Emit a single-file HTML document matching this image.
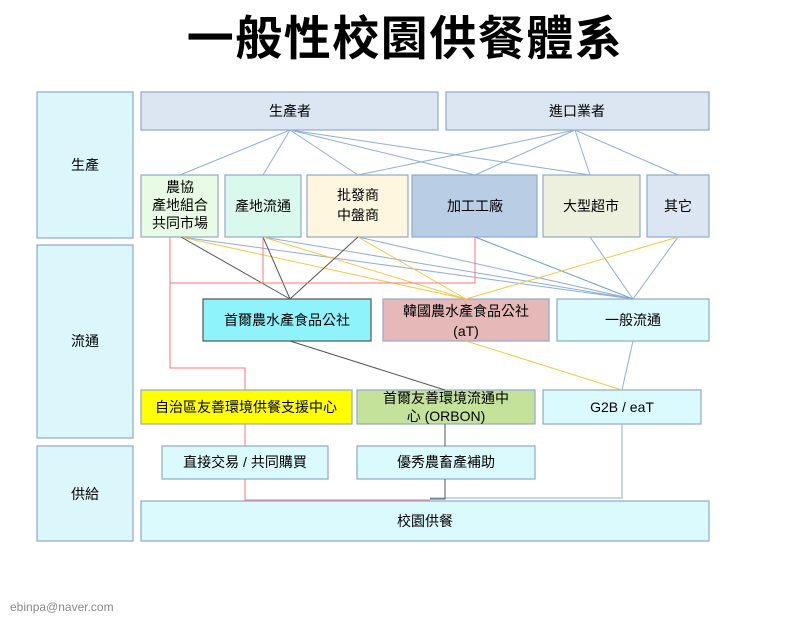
<!DOCTYPE html>
<html><head><meta charset="utf-8"><style>
body{margin:0;background:#fff;width:802px;height:624px;overflow:hidden}
svg{display:block}
text{font-family:"Liberation Sans","Noto Sans CJK TC",sans-serif;fill:#000}
</style></head><body>
<svg width="802" height="624" viewBox="0 0 802 624">
<text x="405" y="55" font-size="47" font-weight="bold" text-anchor="middle" letter-spacing="1.5">一般性校園供餐體系</text>
<g stroke="#8eaacb" stroke-width="1.2">
<rect x="37" y="92" width="96" height="146" fill="#dcf7fb"/>
<rect x="37" y="245" width="96" height="193" fill="#dcf7fb"/>
<rect x="37" y="446" width="96" height="95" fill="#dcf7fb"/>
<rect x="141" y="92" width="297" height="38" fill="#dce6f2"/>
<rect x="446" y="92" width="263" height="38" fill="#dce6f2"/>
<rect x="141" y="175" width="77" height="62" fill="#e8fbe4"/>
<rect x="225" y="175" width="76" height="62" fill="#d9f9ec"/>
<rect x="307" y="175" width="101" height="62" fill="#fff6e0"/>
<rect x="412" y="175" width="125" height="62" fill="#b9cde5"/>
<rect x="543" y="175" width="97" height="62" fill="#ecf0dc"/>
<rect x="647" y="175" width="62" height="62" fill="#dce6f2"/>
<rect x="203" y="299" width="168" height="42" fill="#8ef3fb" stroke="#555"/>
<rect x="383" y="299" width="166" height="42" fill="#e6b9b8"/>
<rect x="557" y="299" width="152" height="42" fill="#dbfafd"/>
<rect x="141" y="390" width="211" height="34" fill="#ffff00"/>
<rect x="357" y="390" width="178" height="34" fill="#c4e29a"/>
<rect x="543" y="390" width="158" height="34" fill="#dbfafd"/>
<rect x="162" y="446" width="166" height="33" fill="#dbfafd"/>
<rect x="357" y="446" width="178" height="33" fill="#dbfafd"/>
<rect x="141" y="501" width="568" height="40" fill="#dbfafd"/>
</g>
<g fill="none" stroke-width="1">
<g stroke="#8eaedc">
<path d="M290 130L180 175M290 130L263 175M290 130L358 175M290 130L475 175M290 130L590 175"/>
<path d="M575 130L358 175M575 130L475 175M575 130L590 175M575 130L678 175"/>
<path d="M181 237L633 299M263 237L633 299M358 237L633 299M590 237L633 299M678 237L633 299"/>
<path d="M475 237L633 299" stroke="#6a9fd6"/>
<path d="M633 341L622 390M622 424V498H430"/>
</g>
<g stroke="#f5c842">
<path d="M181 237L466 299M263 237L466 299M358 237L466 299M678 237L466 299M466 341L622 390"/>
</g>
<g stroke="#555">
<path d="M181 237L290 299M263 237L290 299M358 237L290 299M290 341L445 390M445 424V446M445 479V499H430"/>
</g>
<g stroke="#f77">
<path d="M170 237V368H245V390M245 424V446M245 479V500H430"/>
<path d="M170 283H475V237M263 237V283"/>
</g>
</g>
<g font-size="14" text-anchor="middle">
<text x="85" y="170">生產</text>
<text x="85" y="346">流通</text>
<text x="85" y="499">供給</text>
<text x="290" y="116">生產者</text>
<text x="577" y="116">進口業者</text>
<text x="180" y="192">農協</text>
<text x="180" y="210">產地組合</text>
<text x="180" y="228">共同市場</text>
<text x="263" y="211">產地流通</text>
<text x="358" y="200">批發商</text>
<text x="358" y="220">中盤商</text>
<text x="475" y="211">加工工廠</text>
<text x="591" y="211">大型超市</text>
<text x="678" y="211">其它</text>
<text x="287" y="325">首爾農水產食品公社</text>
<text x="466" y="316">韓國農水產食品公社</text>
<text x="466" y="336">(aT)</text>
<text x="633" y="325">一般流通</text>
<text x="246" y="412">自治區友善環境供餐支援中心</text>
<text x="446" y="403">首爾友善環境流通中</text>
<text x="446" y="421">心 (ORBON)</text>
<text x="622" y="412">G2B / eaT</text>
<text x="245" y="467">直接交易 / 共同購買</text>
<text x="446" y="467">優秀農畜產補助</text>
<text x="425" y="526">校園供餐</text>
</g>
<text x="10" y="611" font-size="12" style="fill:#888">ebinpa@naver.com</text>
</svg>
</body></html>
